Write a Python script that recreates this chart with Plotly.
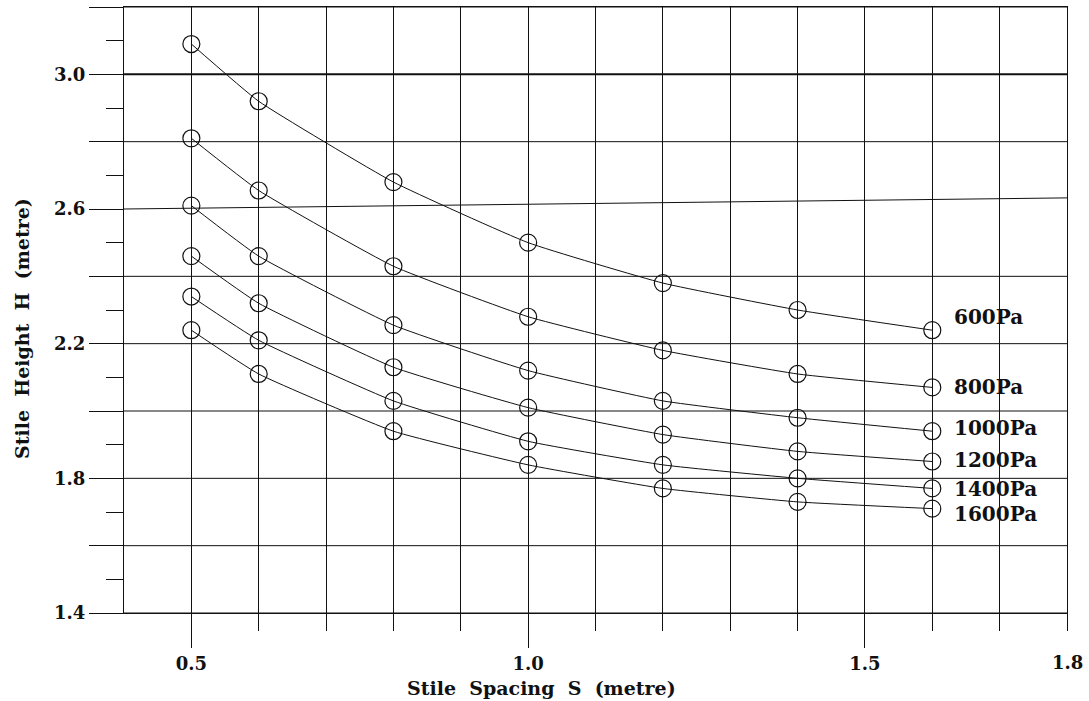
import plotly.graph_objects as go

# stile spacing (metre)
spacing = [0.5, 0.6, 0.8, 1.0, 1.2, 1.4, 1.6]

# stile height (metre) for each design pressure
pressures = ["600Pa", "800Pa", "1000Pa", "1200Pa", "1400Pa", "1600Pa"]
h_600 = [3.09, 2.92, 2.68, 2.50, 2.38, 2.30, 2.24]
h_800 = [2.81, 2.655, 2.43, 2.28, 2.18, 2.11, 2.07]
h_1000 = [2.61, 2.46, 2.255, 2.12, 2.03, 1.98, 1.94]
h_1200 = [2.46, 2.32, 2.13, 2.01, 1.93, 1.88, 1.85]
h_1400 = [2.34, 2.21, 2.03, 1.91, 1.84, 1.80, 1.77]
h_1600 = [2.24, 2.11, 1.94, 1.84, 1.77, 1.73, 1.71]
heights = [h_600, h_800, h_1000, h_1200, h_1400, h_1600]

# ticks
x_major = [0.5, 1.0, 1.5]
x_minor = [0.6, 0.7, 0.8, 0.9, 1.1, 1.2, 1.3, 1.4, 1.6, 1.7, 1.8]
y_major = [1.4, 1.6, 1.8, 2.0, 2.2, 2.4, 2.6, 2.8, 3.0, 3.2]
y_labels = ["1.4", "", "1.8", "", "2.2", "", "2.6", "", "3.0", ""]
y_minor = [1.5, 1.7, 1.9, 2.1, 2.3, 2.5, 2.7, 2.9, 3.1]

# small offsets so the curve labels don't collide
label_dy = [0.04, 0.0, 0.01, 0.003, -0.002, -0.017]

FONT = "DejaVu Serif"
INK = "#111"

fig = go.Figure()

for name, h in zip(pressures, heights):
    fig.add_trace(go.Scatter(
        x=spacing, y=h, name=name, mode="lines+markers",
        line=dict(color=INK, width=1, shape="spline", smoothing=0.4),
        marker=dict(symbol="circle-open", size=17, color=INK, line=dict(width=1.2)),
        showlegend=False,
    ))

for name, h, dy in zip(pressures, heights, label_dy):
    fig.add_annotation(
        x=spacing[-1], y=h[-1] + dy, xref="x", yref="y",
        text=name, showarrow=False, xanchor="left", yanchor="middle", xshift=20,
        font=dict(family=FONT, size=20, color=INK, weight="bold"),
    )

# horizontal grid drawn by hand: the 2.6 line in the original runs slightly uphill
for v in y_major:
    tilt = 0.033 if v == 2.6 else 0.0
    fig.add_shape(type="line", xref="x", yref="y", x0=0.4, x1=1.8, y0=v, y1=v + tilt,
                  line=dict(color=INK, width=2 if v == 3.0 else 1), layer="below")

fig.add_annotation(
    x=1.8, y=0, xref="x", yref="paper", text="1.8", showarrow=False,
    yanchor="middle", yshift=-49,
    font=dict(family=FONT, size=18, color=INK, weight="bold"),
)
fig.add_annotation(
    x=0.443, y=0, xref="paper", yref="paper", text="Stile  Spacing  S  (metre)",
    showarrow=False, yanchor="middle", yshift=-75,
    font=dict(family=FONT, size=19, color=INK, weight="bold"),
)
fig.add_annotation(
    x=0, y=0.4686, xref="paper", yref="paper", text="Stile  Height  H  (metre)",
    showarrow=False, textangle=-90, xanchor="center", xshift=-102,
    font=dict(family=FONT, size=19, color=INK, weight="bold"),
)

fig.update_xaxes(
    range=[0.4, 1.8], tickmode="array", tickvals=x_major, ticktext=["0.5", "1.0", "1.5"],
    ticks="outside", ticklen=34, tickwidth=1, tickcolor=INK,
    showgrid=True, gridcolor=INK, gridwidth=1, zeroline=False,
    showline=True, linecolor=INK, linewidth=1, mirror=True,
    minor=dict(tickmode="array", tickvals=x_minor, ticks="outside", ticklen=17,
               tickcolor=INK, tickwidth=1, showgrid=True, gridcolor=INK, gridwidth=1),
    tickfont=dict(family=FONT, size=18, color=INK, weight="bold"),
)
fig.update_yaxes(
    range=[1.4, 3.2], tickmode="array", tickvals=y_major, ticktext=y_labels,
    ticks="outside", ticklen=34, tickwidth=1, tickcolor=INK,
    showgrid=False, zeroline=False,
    showline=True, linecolor=INK, linewidth=1, mirror=True,
    minor=dict(tickmode="array", tickvals=y_minor, ticks="outside", ticklen=17,
               tickcolor=INK, tickwidth=1, showgrid=False),
    tickfont=dict(family=FONT, size=18, color=INK, weight="bold"),
)

fig.update_layout(
    width=1089, height=701,
    margin=dict(l=124, r=22, t=7, b=88),
    paper_bgcolor="white", plot_bgcolor="white",
    font=dict(family=FONT, color=INK),
)

# drop the browser's default page margin so the figure sits at the window corner
fig.write_html("out.html", config={"displayModeBar": False},
               post_script="document.body.style.margin = '0';")
